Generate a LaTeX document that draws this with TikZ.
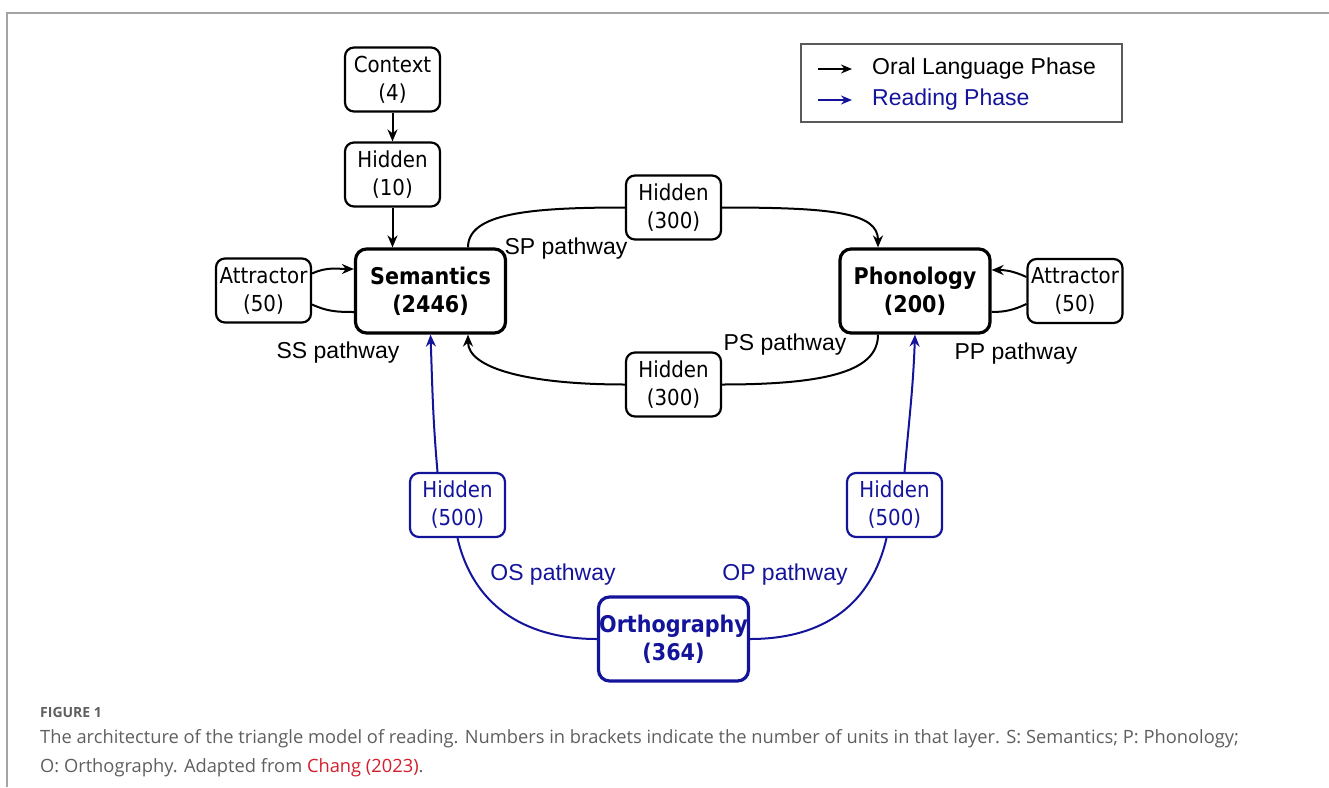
\documentclass[tikz,border=0pt]{standalone}
\usepackage{fontspec}
\setmainfont{Liberation Sans}
\newfontfamily\nodefont{DejaVu Sans Condensed}
\newfontfamily\capfont{Open Sans}
\usetikzlibrary{arrows.meta}
\definecolor{rblue}{RGB}{20,20,155}
\definecolor{capgray}{RGB}{95,95,95}
\definecolor{capred}{RGB}{210,30,45}
\definecolor{framegray}{RGB}{165,165,165}
\definecolor{leggray}{RGB}{90,90,90}
\begin{document}
\begin{tikzpicture}[x=1pt,y=1pt,
 box/.style={draw, line width=2.2pt, rounded corners=9pt, align=center, inner sep=0pt,
   minimum width=95pt, minimum height=64pt, font=\nodefont\fontsize{22}{28}\selectfont},
 mainbox/.style={box, line width=3.2pt, rounded corners=11pt, minimum width=150pt,
   minimum height=84pt, font=\nodefont\bfseries\fontsize{23}{28}\selectfont},
 rdg/.style={draw=rblue, text=rblue},
 conn/.style={line width=2pt},
 arr/.style={conn, -{Stealth[length=12pt,width=10pt]}},
 lbl/.style={font=\fontsize{23}{26}\selectfont, inner sep=0pt},
 caption/.style={anchor=base west, inner sep=0pt, text=capgray}
]
\useasboundingbox (0,0) rectangle (1329,-787);
\draw[framegray, line width=2pt] (1329,-13) -- (7,-13) -- (7,-787);

% nodes
\node[box] (ctx) at (392.5,-79.5) {Context\\(4)};
\node[box] (h10) at (392.5,-174.5) {Hidden\\(10)};
\node[mainbox] (sem) at (430.5,-291) {Semantics\\(2446)};
\node[box] (attL) at (263.5,-290.5) {Attractor\\(50)};
\node[box] (hSP) at (673.5,-207.5) {Hidden\\(300)};
\node[box] (hPS) at (673.5,-384.5) {Hidden\\(300)};
\node[mainbox] (pho) at (915,-291) {Phonology\\(200)};
\node[box] (attR) at (1075,-291) {Attractor\\(50)};
\node[box, rdg] (hOS) at (457.5,-505) {Hidden\\(500)};
\node[box, rdg] (hOP) at (894.5,-505) {Hidden\\(500)};
\node[mainbox, rdg] (orth) at (673.5,-639) {Orthography\\(364)};

% oral connectors
\draw[arr] (ctx.south) -- (h10.north);
\draw[arr] (h10.south) -- (h10.south |- sem.north);
\draw[arr] ([yshift=17pt]attL.east) to[out=25,in=180] ([yshift=22pt]sem.west);
\draw[conn] ([yshift=-21pt]sem.west) to[out=180,in=-25] ([yshift=-14pt]attL.east);
\draw[arr] ([yshift=14pt]attR.west) to[out=155,in=0] ([yshift=21pt]pho.east);
\draw[conn] ([yshift=-21pt]pho.east) to[out=0,in=-155] ([yshift=-13pt]attR.west);
\draw[conn] ([xshift=37.5pt]sem.north) .. controls +(0,34) and +(-96,0) .. (hSP.west);
\draw[arr] (hSP.east) .. controls +(110,0) and +(0,35) .. ([xshift=-37pt]pho.north);
\draw[conn] ([xshift=-37pt]pho.south) .. controls +(0,-35) and +(110,0) .. (hPS.east);
\draw[arr] (hPS.west) .. controls +(-96,0) and +(0,-34) .. ([xshift=37.5pt]sem.south);

% reading connectors
\draw[arr, rblue] ([xshift=-20pt]hOS.north) to[out=95,in=-88] (sem.south);
\draw[conn, rblue] (hOS.south) .. controls +(15,-65) and +(-75,0) .. (orth.west);
\draw[arr, rblue] ([xshift=10pt]hOP.north) to[out=85,in=-92] (pho.south);
\draw[conn, rblue] ([xshift=-8pt]hOP.south) .. controls +(-15,-65) and +(75,0) .. (orth.east);

% labels
\node[lbl] (lSS) at (338,-353) {SS pathway};
\node[lbl] (lSP) at (566,-249) {SP pathway};
\node[lbl] (lPS) at (785,-345) {PS pathway};
\node[lbl] (lPP) at (1016,-354) {PP pathway};
\node[lbl, text=rblue] (lOS) at (553,-575) {OS pathway};
\node[lbl, text=rblue] (lOP) at (785,-575) {OP pathway};

% legend
\node[draw=leggray, line width=2pt, minimum width=321pt, minimum height=78pt, inner sep=0pt] (leg) at (961.5,-83) {};
\coordinate (la1) at (818,-69); \coordinate (lb1) at (852,-69);
\coordinate (la2) at (818,-100); \coordinate (lb2) at (852,-100);
\draw[conn, -{Stealth[length=11pt,width=9pt]}] (la1) -- (lb1);
\draw[conn, rblue, -{Stealth[length=11pt,width=9pt]}] (la2) -- (lb2);
\node[lbl, anchor=west] (lt1) at (872,-69) {Oral Language Phase};
\node[lbl, anchor=west, text=rblue] (lt2) at (872,-100) {Reading Phase};

% caption
\node[caption, font=\capfont\bfseries\fontsize{14}{16}\selectfont] (fig) at (40,-717) {FIGURE 1};
\node[caption, font=\capfont\fontsize{18.3}{22}\selectfont] (cap1) at (40,-743)
 {The architecture of the triangle model of reading. Numbers in brackets indicate the number of units in that layer. S: Semantics; P: Phonology;};
\node[caption, font=\capfont\fontsize{18.3}{22}\selectfont] (cap2) at (40,-772)
 {O: Orthography. Adapted from \textcolor{capred}{Chang (2023)}.};
\end{tikzpicture}
\end{document}
